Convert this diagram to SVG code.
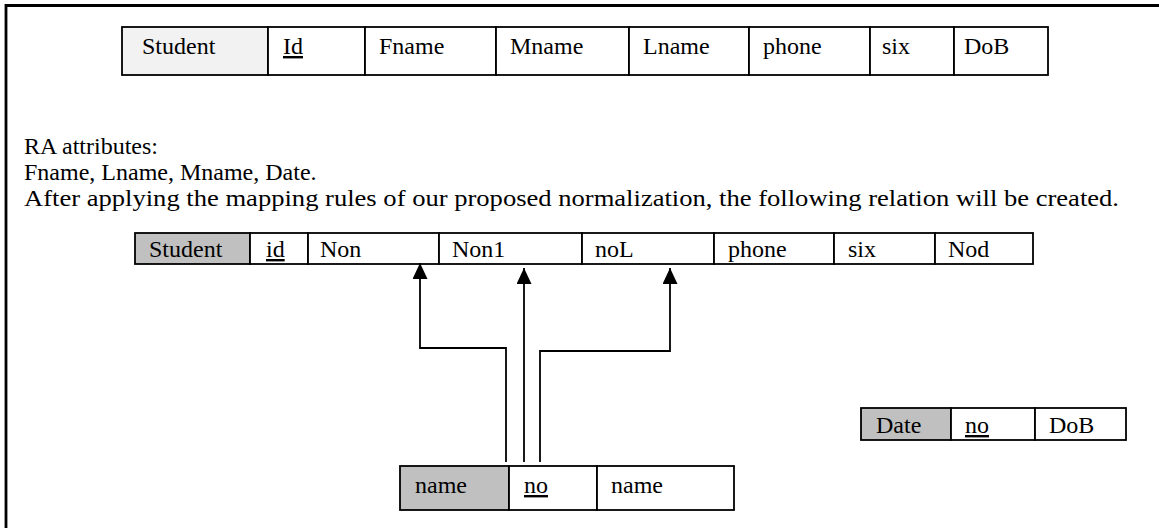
<svg xmlns="http://www.w3.org/2000/svg" width="1159" height="528" viewBox="0 0 1159 528">
<defs>
<style>
text{font-family:"Liberation Serif","Times New Roman",serif;font-size:24px;fill:#000}
.p{font-size:24px}
.cell{fill:#fff;stroke:#000;stroke-width:1.8}
.key{fill:#c0c0c0;stroke:#000;stroke-width:1.8}
.lkey{fill:#f2f2f2;stroke:#000;stroke-width:1.8}
.u{text-decoration:underline}
.conn{fill:none;stroke:#000;stroke-width:1.8}
</style>
<marker id="ah" markerUnits="userSpaceOnUse" markerWidth="16" markerHeight="15" refX="16" refY="7.5" orient="auto">
<path d="M0,0 L16,7.5 L0,15 z" fill="#000"/>
</marker>
</defs>
<rect width="1159" height="528" fill="#fff"/>
<path d="M6,528 V5.5 H1159" fill="none" stroke="#000" stroke-width="2.8"/>

<g id="student-original">
<rect class="lkey" x="122" y="27" width="146" height="48"/>
<rect class="cell" x="268" y="27" width="97" height="48"/>
<rect class="cell" x="365" y="27" width="131" height="48"/>
<rect class="cell" x="496" y="27" width="133" height="48"/>
<rect class="cell" x="629" y="27" width="120" height="48"/>
<rect class="cell" x="749" y="27" width="121" height="48"/>
<rect class="cell" x="870" y="27" width="84" height="48"/>
<rect class="cell" x="954" y="27" width="94" height="48"/>
<text x="142" y="54">Student</text>
<text class="u" x="283" y="54">Id</text>
<text x="379" y="54">Fname</text>
<text x="510" y="54">Mname</text>
<text x="643" y="54">Lname</text>
<text x="763" y="54">phone</text>
<text x="882" y="54">six</text>
<text x="964" y="54">DoB</text>
</g>

<g id="description">
<text class="p" x="24" y="154">RA attributes:</text>
<text class="p" x="24" y="180">Fname, Lname, Mname, Date.</text>
<text class="p" x="24" y="206" textLength="1095" lengthAdjust="spacingAndGlyphs">After applying the mapping rules of our proposed normalization, the following relation will be created.</text>
</g>

<g id="student-normalized">
<rect class="key" x="135" y="233" width="115" height="31"/>
<rect class="cell" x="250" y="233" width="58" height="31"/>
<rect class="cell" x="308" y="233" width="131" height="31"/>
<rect class="cell" x="439" y="233" width="143" height="31"/>
<rect class="cell" x="582" y="233" width="132" height="31"/>
<rect class="cell" x="714" y="233" width="120" height="31"/>
<rect class="cell" x="834" y="233" width="101" height="31"/>
<rect class="cell" x="935" y="233" width="98" height="31"/>
<text x="149" y="257">Student</text>
<text class="u" x="266" y="257">id</text>
<text x="320" y="257">Non</text>
<text x="452" y="257">Non1</text>
<text x="595" y="257">noL</text>
<text x="728" y="257">phone</text>
<text x="848" y="257">six</text>
<text x="948" y="257">Nod</text>
</g>

<g id="name-relation">
<rect class="key" x="400" y="466" width="109" height="44"/>
<rect class="cell" x="509" y="466" width="88" height="44"/>
<rect class="cell" x="597" y="466" width="137" height="44"/>
<text x="415" y="493">name</text>
<text class="u" x="524" y="493">no</text>
<text x="611" y="493">name</text>
</g>

<g id="date-relation">
<rect class="key" x="861" y="408" width="90" height="32"/>
<rect class="cell" x="951" y="408" width="84" height="32"/>
<rect class="cell" x="1035" y="408" width="91" height="32"/>
<text x="876" y="433">Date</text>
<text class="u" x="965" y="433">no</text>
<text x="1049" y="433">DoB</text>
</g>

<g id="connectors">
<path class="conn" d="M506,462 V348 H420 V263" marker-end="url(#ah)"/>
<path class="conn" d="M524,462 V268" marker-end="url(#ah)"/>
<path class="conn" d="M540,462 V351 H670 V268" marker-end="url(#ah)"/>
</g>
</svg>
